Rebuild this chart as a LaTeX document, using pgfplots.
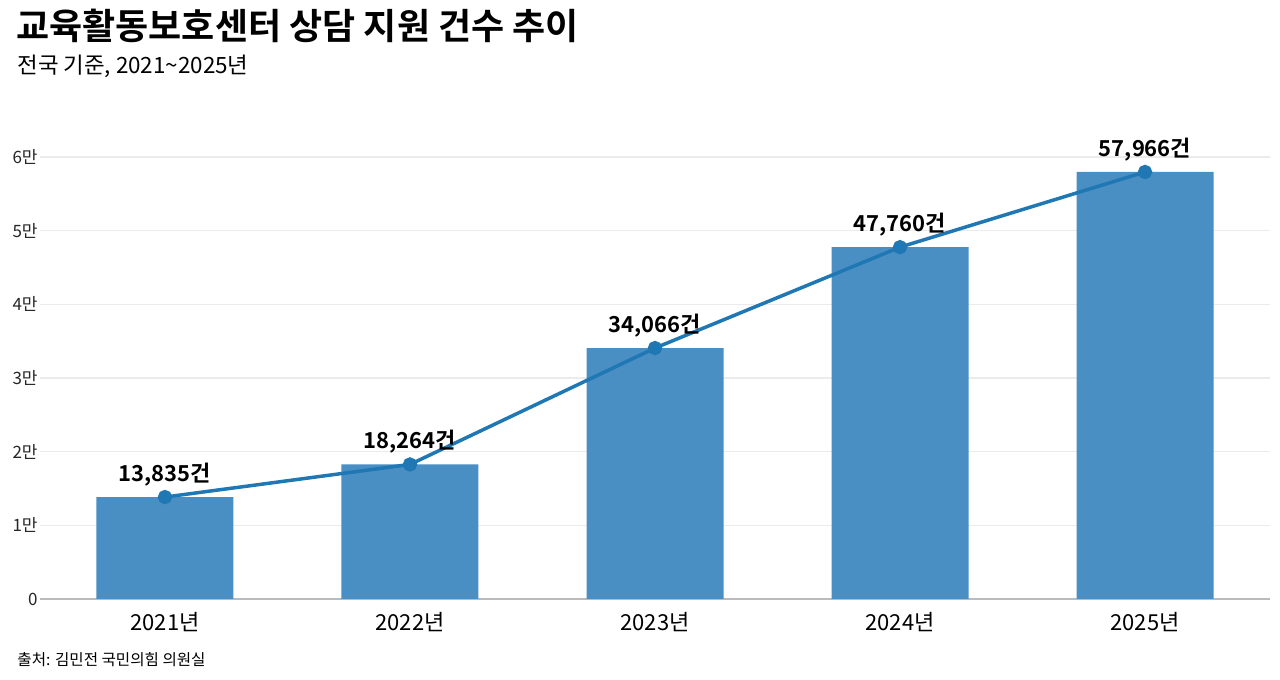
\documentclass[border=0pt]{standalone}
\usepackage{fontspec}
\setmainfont{Noto Sans CJK KR}[BoldFont={Noto Sans CJK KR Bold}]
\usepackage{pgfplots}
\pgfplotsset{compat=1.18}
\definecolor{barblue}{HTML}{4A8FC3}
\definecolor{lineblue}{HTML}{1F77B4}
\definecolor{gridgray}{HTML}{EBEBEB}
\definecolor{axisgray}{HTML}{BBBBBB}
\begin{document}
\begin{tikzpicture}
\path[use as bounding box] (0,0) rectangle (640pt,340pt);
\node[anchor=base west, font=\fontsize{18}{21}\selectfont\bfseries, inner sep=0] at (8pt,320pt) {교육활동보호센터 상담 지원 건수 추이};
\node[anchor=base west, font=\fontsize{11.2}{13}\selectfont, inner sep=0] at (8.5pt,303pt) {전국 기준, 2021\textasciitilde 2025년};
\node[anchor=base west, font=\fontsize{7.8}{9}\selectfont, inner sep=0] at (8.5pt,7pt) {출처: 김민전 국민의힘 의원실};
\begin{axis}[
  at={(20pt,40.5pt)}, anchor=south west,
  scale only axis, width=615pt, height=235.75pt,
  xmin=-0.51, xmax=4.51, ymin=0, ymax=64000,
  axis x line*=bottom, axis y line*=left,
  y axis line style={draw=none},
  x axis line style={draw=axisgray, line width=0.6pt},
  major tick length=0pt,
  scaled y ticks=false,
  xtick={0,1,2,3,4},
  xticklabels={2021년,2022년,2023년,2024년,2025년},
  ytick={0,10000,20000,30000,40000,50000,60000},
  yticklabels={0,1만,2만,3만,4만,5만,6만},
  xticklabel style={font=\fontsize{11}{12}\selectfont, yshift=-3pt},
  yticklabel style={font=\fontsize{8.5}{9}\selectfont, inner sep=1pt, text=black!85},
  ymajorgrids, grid style={draw=gridgray, line width=0.6pt},
  clip=false,
]
\addplot[ybar, bar width=68.5pt, fill=barblue, draw=none] coordinates {
  (0,13835) (1,18264) (2,34066) (3,47760) (4,57966)};
\addplot[lineblue, line width=1.75pt, mark=*, mark size=2.7pt,
  mark options={fill=lineblue, draw=lineblue},
  point meta=explicit symbolic,
  nodes near coords,
  every node near coord/.append style={font=\fontsize{11}{12}\selectfont\bfseries, anchor=south, inner sep=0pt, yshift=4.5pt, text=black}]
  coordinates {
  (0,13835) [13,835건]
  (1,18264) [18,264건]
  (2,34066) [34,066건]
  (3,47760) [47,760건]
  (4,57966) [57,966건]};
\end{axis}
\end{tikzpicture}
\end{document}
